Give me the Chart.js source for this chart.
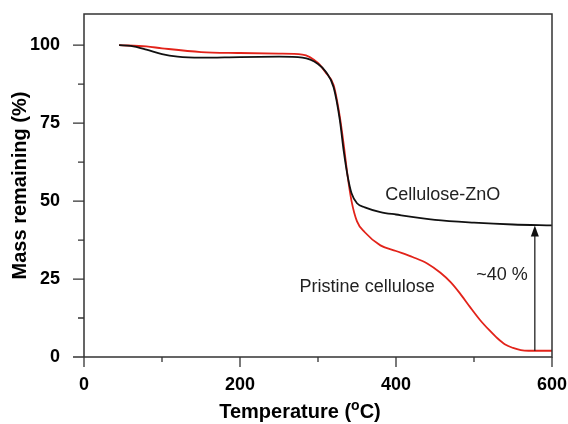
<!DOCTYPE html>
<html>
<head>
<meta charset="utf-8">
<script src="https://cdn.jsdelivr.net/npm/chart.js@4.4.0/dist/chart.umd.min.js"></script>
<style>
  html, body { margin: 0; padding: 0; background: #fff; }
  #wrap { width: 568px; height: 424px; }
</style>
</head>
<body>
<div id="wrap"><canvas id="tga"></canvas></div>
<script>
/* TGA curves */

const znoTemp = [45, 60, 80, 100, 120, 150, 200, 250, 280, 300, 310, 320, 328, 333, 338, 343, 350, 360, 380, 400, 450, 500, 550, 600];
const znoMass = [100, 99.8, 98.6, 97.1, 96.3, 96.0, 96.2, 96.3, 96.0, 94.0, 91.5, 86.5, 76, 66, 58, 52.5, 49.3, 48, 46.5, 45.7, 44.0, 43.1, 42.5, 42.2];

const pureTemp = [45, 80, 100, 150, 200, 250, 280, 300, 310, 320, 328, 333, 338, 343, 350, 360, 380, 400, 422, 440, 457, 470, 482, 495, 508, 520, 530, 540, 550, 560, 570, 600];
const pureMass = [100, 99.6, 99.0, 97.8, 97.5, 97.3, 97.0, 94.3, 91.2, 87.2, 77, 68, 58, 50, 43.5, 40, 35.8, 34, 32, 30, 27, 24, 20.4, 16, 11.8, 8.5, 6, 4, 2.9, 2.2, 2.0, 2.0];

const xMajor = [0, 200, 400, 600];
const xMinor = [100, 300, 500];
const yMajor = [0, 25, 50, 75, 100];
const yMinor = [12.5, 37.5, 62.5, 87.5];

const toPts = (xs, ys) => xs.map((x, i) => ({ x: x, y: ys[i] }));

const axisColor = '#333';
const fam = '"Liberation Sans", Arial, sans-serif';

const frame = {
  id: 'frame',
  afterDraw(chart) {
    const { ctx, chartArea: a, scales: { x, y } } = chart;
    ctx.save();
    ctx.strokeStyle = axisColor;
    ctx.lineWidth = 1.5;
    // box
    ctx.beginPath();
    ctx.moveTo(a.left, a.bottom);
    ctx.lineTo(a.left, a.top);
    ctx.lineTo(a.right, a.top);
    ctx.lineTo(a.right, a.bottom);
    ctx.lineTo(a.left, a.bottom);
    ctx.stroke();
    // ticks
    ctx.lineWidth = 1.3;
    ctx.beginPath();
    xMajor.forEach(v => { const p = x.getPixelForValue(v); ctx.moveTo(p, a.bottom); ctx.lineTo(p, a.bottom + 10); });
    xMinor.forEach(v => { const p = x.getPixelForValue(v); ctx.moveTo(p, a.bottom); ctx.lineTo(p, a.bottom + 5); });
    yMajor.forEach(v => { const p = y.getPixelForValue(v); ctx.moveTo(a.left, p); ctx.lineTo(a.left - 11, p); });
    yMinor.forEach(v => { const p = y.getPixelForValue(v); ctx.moveTo(a.left, p); ctx.lineTo(a.left - 6, p); });
    ctx.stroke();

    // arrow ~40 %
    const ax = x.getPixelForValue(578);
    const y0 = y.getPixelForValue(2);
    const y1 = y.getPixelForValue(42.2);
    ctx.strokeStyle = '#111';
    ctx.lineWidth = 1.2;
    ctx.beginPath();
    ctx.moveTo(ax, y0);
    ctx.lineTo(ax, y1 + 8);
    ctx.stroke();
    ctx.fillStyle = '#111';
    ctx.beginPath();
    ctx.moveTo(ax, y1);
    ctx.lineTo(ax - 4, y1 + 11);
    ctx.lineTo(ax + 4, y1 + 11);
    ctx.closePath();
    ctx.fill();

    // labels
    ctx.fillStyle = '#222';
    ctx.font = '18px ' + fam;
    ctx.textAlign = 'center';
    ctx.textBaseline = 'middle';
    ctx.fillText('Cellulose-ZnO', x.getPixelForValue(460), y.getPixelForValue(52.1));
    ctx.fillText('Pristine cellulose', x.getPixelForValue(363), y.getPixelForValue(22.3));
    ctx.fillText('~40 %', x.getPixelForValue(536), y.getPixelForValue(26.2));

    // x title with superscript
    ctx.fillStyle = '#000';
    ctx.textAlign = 'left';
    ctx.textBaseline = 'alphabetic';
    const big = 'bold 20px ' + fam;
    const small = 'bold 14px ' + fam;
    const t1 = 'Temperature (', t2 = 'o', t3 = 'C)';
    ctx.font = big; const w1 = ctx.measureText(t1).width; const w3 = ctx.measureText(t3).width;
    ctx.font = small; const w2 = ctx.measureText(t2).width;
    let sx = 300 - (w1 + w2 + w3) / 2;
    const by = 418;
    ctx.font = big; ctx.fillText(t1, sx, by); sx += w1;
    ctx.font = small; ctx.fillText(t2, sx, by - 8); sx += w2;
    ctx.font = big; ctx.fillText(t3, sx, by);
    ctx.restore();
  }
};

new Chart(document.getElementById('tga'), {
  type: 'line',
  data: {
    datasets: [{
      label: 'Cellulose-ZnO',
      data: toPts(znoTemp, znoMass),
      borderColor: '#111',
      borderWidth: 1.8,
      pointRadius: 0,
      cubicInterpolationMode: 'monotone',
      fill: false
    }, {
      label: 'Pristine cellulose',
      data: toPts(pureTemp, pureMass),
      borderColor: '#e2231a',
      borderWidth: 1.8,
      pointRadius: 0,
      cubicInterpolationMode: 'monotone',
      fill: false
    }]
  },
  options: {
    responsive: true,
    maintainAspectRatio: false,
    animation: false,
    layout: { padding: { top: 14, right: 16, left: 0, bottom: 0 } },
    plugins: {
      legend: { display: false },
      tooltip: { enabled: false }
    },
    scales: {
      x: {
        type: 'linear',
        min: 0,
        max: 600,
        grid: { display: false },
        border: { display: false },
        afterBuildTicks: s => { s.ticks = xMajor.map(v => ({ value: v })); },
        afterFit: s => { s.height = 67; s.paddingLeft = 0; s.paddingRight = 0; },
        ticks: {
          color: '#000',
          padding: 9,
          maxRotation: 0,
          font: { family: fam, size: 18, weight: 'bold' }
        }
      },
      y: {
        min: 0,
        max: 110,
        grid: { display: false },
        border: { display: false },
        afterBuildTicks: s => { s.ticks = yMajor.map(v => ({ value: v })); },
        afterFit: s => { s.width = 84; s.paddingTop = 0; s.paddingBottom = 0; },
        ticks: {
          color: '#000',
          padding: 16,
          font: { family: fam, size: 18, weight: 'bold' }
        },
        title: {
          display: true,
          text: 'Mass remaining (%)',
          color: '#000',
          padding: { top: 8, bottom: 0 },
          font: { family: fam, size: 20, weight: 'bold' }
        }
      }
    }
  },
  plugins: [frame]
});
</script>
</body>
</html>
